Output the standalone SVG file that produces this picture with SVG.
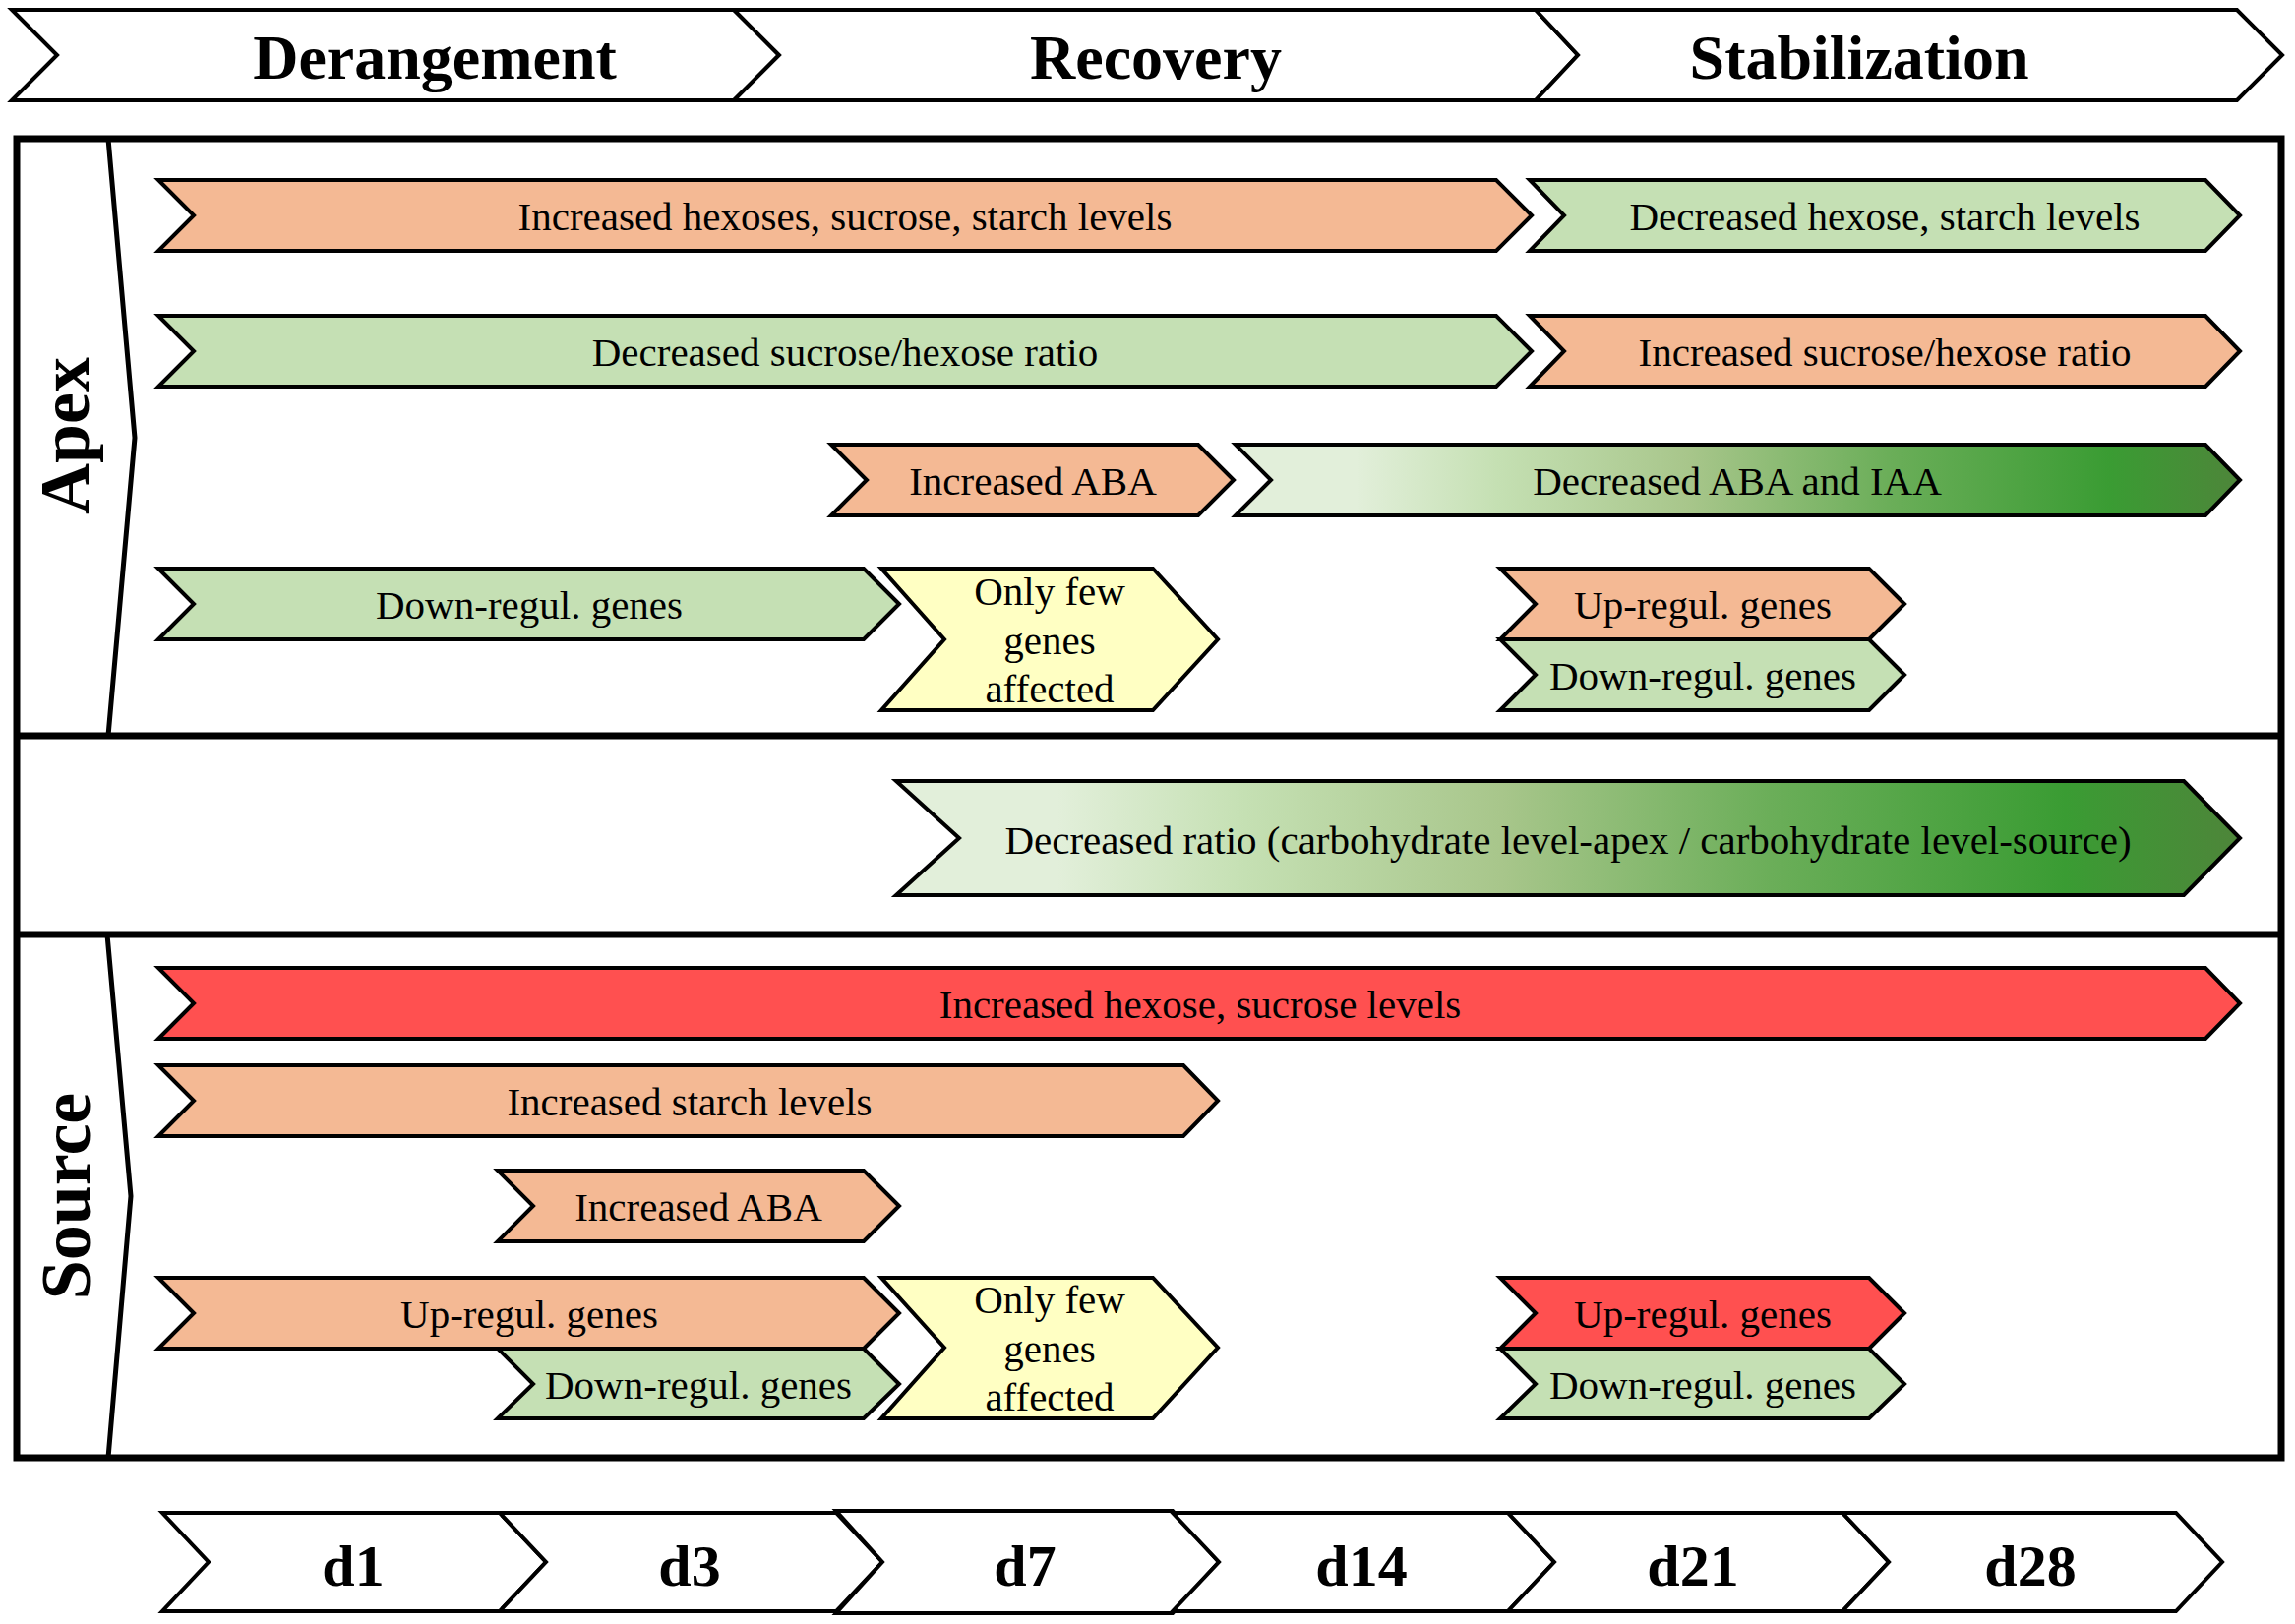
<svg xmlns="http://www.w3.org/2000/svg" width="2333" height="1651" viewBox="0 0 2333 1651">
<defs>
<style>
.hd{fill:#fff;stroke:#000;stroke-width:4;stroke-linejoin:miter}
.or{fill:#F4B994;stroke:#000;stroke-width:4;stroke-linejoin:miter}
.gr{fill:#C5E0B4;stroke:#000;stroke-width:4;stroke-linejoin:miter}
.ye{fill:#FFFFC3;stroke:#000;stroke-width:4;stroke-linejoin:miter}
.rd{fill:#FF5050;stroke:#000;stroke-width:4;stroke-linejoin:miter}
.gd{fill:url(#grad);stroke:#000;stroke-width:4;stroke-linejoin:miter}
.t{font-family:"Liberation Serif","Times New Roman",serif;font-size:41px;fill:#000;text-anchor:middle}
.h{font-family:"Liberation Serif","Times New Roman",serif;font-size:64px;font-weight:bold;fill:#000;text-anchor:middle}
.d{font-family:"Liberation Serif","Times New Roman",serif;font-size:60px;font-weight:bold;fill:#000;text-anchor:middle}
.s{font-family:"Liberation Serif","Times New Roman",serif;font-size:72px;font-weight:bold;fill:#000;text-anchor:middle}
.frame{fill:#fff;stroke:#000;stroke-width:7}
.sep{fill:none;stroke:#000;stroke-width:5;stroke-linejoin:miter}
</style>
<linearGradient id="grad" x1="0" y1="0" x2="1" y2="0">
<stop offset="0" stop-color="#E2EFDA"/>
<stop offset="0.12" stop-color="#E2EFDA"/>
<stop offset="0.26" stop-color="#C5E0B3"/>
<stop offset="0.45" stop-color="#A8C68B"/>
<stop offset="0.65" stop-color="#6BAE59"/>
<stop offset="0.87" stop-color="#3A9C33"/>
<stop offset="1" stop-color="#4E853A"/>
</linearGradient>
</defs>

<g id="header">
<g id="h-derangement"><path class="hd" d="M12,10 L746,10 L792,56 L746,102 L12,102 L58,56 Z"/><text class="h" x="442" y="80">Derangement</text></g>
<g id="h-recovery"><path class="hd" d="M746,10 L1561,10 L1604,56 L1561,102 L746,102 L792,56 Z"/><text class="h" x="1175" y="80">Recovery</text></g>
<g id="h-stabilization"><path class="hd" d="M1561,10 L2274,10 L2320,56 L2274,102 L1561,102 L1604,56 Z"/><text class="h" x="1890" y="80">Stabilization</text></g>
</g>

<g id="frame">
<rect class="frame" x="17" y="141" width="2302" height="1341"/>
<line x1="17" y1="748" x2="2319" y2="748" stroke="#000" stroke-width="7"/>
<line x1="17" y1="950" x2="2319" y2="950" stroke="#000" stroke-width="7"/>
<polyline class="sep" points="110,141 137,445 110,748"/>
<polyline class="sep" points="109,950 133,1216 110,1482"/>
<text class="s" transform="translate(90,443) rotate(-90)">Apex</text>
<text class="s" transform="translate(91,1216) rotate(-90)">Source</text>
</g>

<g id="apex">
<g id="a1"><path class="or" d="M161,183 L1521,183 L1557,219 L1521,255 L161,255 L197,219 Z"/><text class="t" x="859" y="234">Increased hexoses, sucrose, starch levels</text></g>
<g id="a2"><path class="gr" d="M1555,183 L2242,183 L2277,219 L2242,255 L1555,255 L1590,219 Z"/><text class="t" x="1916" y="234">Decreased hexose, starch levels</text></g>
<g id="a3"><path class="gr" d="M161,321 L1521,321 L1557,357 L1521,393 L161,393 L197,357 Z"/><text class="t" x="859" y="372">Decreased sucrose/hexose ratio</text></g>
<g id="a4"><path class="or" d="M1555,321 L2242,321 L2277,357 L2242,393 L1555,393 L1590,357 Z"/><text class="t" x="1916" y="372">Increased sucrose/hexose ratio</text></g>
<g id="a5"><path class="or" d="M845,452 L1218,452 L1254,488 L1218,524 L845,524 L881,488 Z"/><text class="t" x="1050" y="503">Increased ABA</text></g>
<g id="a6"><path class="gd" d="M1256,452 L2242,452 L2277,488 L2242,524 L1256,524 L1292,488 Z"/><text class="t" x="1766" y="503">Decreased ABA and IAA</text></g>
<g id="a7"><path class="gr" d="M161,578 L878,578 L914,614 L878,650 L161,650 L197,614 Z"/><text class="t" x="538" y="629">Down-regul. genes</text></g>
<g id="a8"><path class="ye" d="M896,578 L1172,578 L1238,650 L1172,722 L896,722 L960,650 Z"/><text class="t" x="1067" y="615">Only few</text><text class="t" x="1067" y="665">genes</text><text class="t" x="1067" y="714">affected</text></g>
<g id="a9"><path class="or" d="M1525,578 L1900,578 L1936,614 L1900,650 L1525,650 L1561,614 Z"/><text class="t" x="1731" y="629">Up-regul. genes</text></g>
<g id="a10"><path class="gr" d="M1525,650 L1900,650 L1936,686 L1900,722 L1525,722 L1561,686 Z"/><text class="t" x="1731" y="701">Down-regul. genes</text></g>
</g>

<g id="ratio">
<path class="gd" d="M911,794 L2220,794 L2277,852 L2220,910 L911,910 L975,852 Z"/>
<text class="t" x="1594" y="868">Decreased ratio (carbohydrate level-apex / carbohydrate level-source)</text>
</g>

<g id="source">
<g id="s1"><path class="rd" d="M161,984 L2242,984 L2277,1020 L2242,1056 L161,1056 L197,1020 Z"/><text class="t" x="1220" y="1035">Increased hexose, sucrose levels</text></g>
<g id="s2"><path class="or" d="M161,1083 L1203,1083 L1238,1119 L1203,1155 L161,1155 L197,1119 Z"/><text class="t" x="701" y="1134">Increased starch levels</text></g>
<g id="s3"><path class="or" d="M506,1190 L878,1190 L914,1226 L878,1262 L506,1262 L542,1226 Z"/><text class="t" x="710" y="1241">Increased ABA</text></g>
<g id="s4"><path class="or" d="M161,1299 L878,1299 L914,1335 L878,1371 L161,1371 L197,1335 Z"/><text class="t" x="538" y="1350">Up-regul. genes</text></g>
<g id="s5"><path class="gr" d="M506,1371 L878,1371 L914,1407 L878,1442 L506,1442 L542,1407 Z"/><text class="t" x="710" y="1422">Down-regul. genes</text></g>
<g id="s6"><path class="ye" d="M896,1299 L1172,1299 L1238,1370 L1172,1442 L896,1442 L960,1370 Z"/><text class="t" x="1067" y="1335">Only few</text><text class="t" x="1067" y="1385">genes</text><text class="t" x="1067" y="1434">affected</text></g>
<g id="s7"><path class="rd" d="M1525,1299 L1900,1299 L1936,1335 L1900,1371 L1525,1371 L1561,1335 Z"/><text class="t" x="1731" y="1350">Up-regul. genes</text></g>
<g id="s8"><path class="gr" d="M1525,1371 L1900,1371 L1936,1407 L1900,1442 L1525,1442 L1561,1407 Z"/><text class="t" x="1731" y="1422">Down-regul. genes</text></g>
</g>

<g id="days">
<g id="d1"><path class="hd" d="M165,1538 L508,1538 L555,1588 L508,1638 L165,1638 L212,1588 Z"/><text class="d" x="359" y="1612">d1</text></g>
<g id="d3"><path class="hd" d="M508,1538 L850,1538 L897,1588 L850,1638 L508,1638 L555,1588 Z"/><text class="d" x="701" y="1612">d3</text></g>
<g id="d7"><path class="hd" d="M850,1536 L1192,1536 L1239,1588 L1192,1640 L850,1640 L897,1588 Z"/><text class="d" x="1042" y="1612">d7</text></g>
<g id="d14"><path class="hd" d="M1192,1538 L1533,1538 L1580,1588 L1533,1638 L1192,1638 L1239,1588 Z"/><text class="d" x="1384" y="1612">d14</text></g>
<g id="d21"><path class="hd" d="M1533,1538 L1873,1538 L1920,1588 L1873,1638 L1533,1638 L1580,1588 Z"/><text class="d" x="1721" y="1612">d21</text></g>
<g id="d28"><path class="hd" d="M1873,1538 L2212,1538 L2259,1588 L2212,1638 L1873,1638 L1920,1588 Z"/><text class="d" x="2064" y="1612">d28</text></g>
</g>
</svg>
